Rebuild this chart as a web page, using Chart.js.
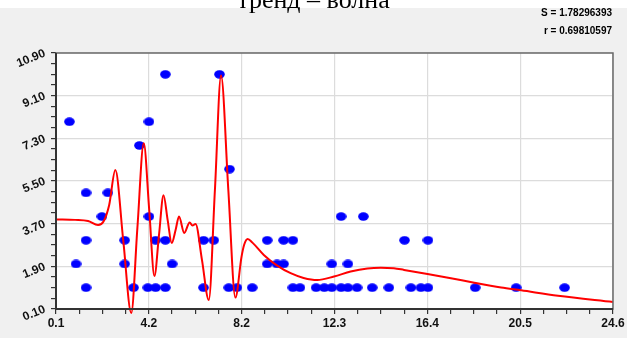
<!DOCTYPE html>
<html>
<head>
<meta charset="utf-8">
<script src="https://cdn.jsdelivr.net/npm/chart.js@4/dist/chart.umd.min.js"></script>
<style>
  html, body { margin:0; padding:0; background:#fff; }
  canvas { display:block; }
</style>
</head>
<body>
<canvas id="chart" width="627" height="338"></canvas>
<script>
// ============ DATA ============
const titleText = 'тренд – волна';
const statLines = ['S = 1.78296393', 'r = 0.69810597'];

const xTickLabels = ['0.1','4.2','8.2','12.3','16.4','20.5','24.6'];
const yTickLabels = ['0.10','1.90','3.70','5.50','7.30','9.10','10.90'];

// observed points
const pointX = [4.91, 7.29, 0.69, 4.19, 3.77, 7.73, 1.42, 2.38, 2.12, 4.19, 12.64, 13.62,
  1.42, 3.12, 4.48, 4.91, 6.59, 7.04, 9.39, 10.11, 10.52, 15.43, 16.46,
  0.98, 3.12, 5.21, 9.39, 9.82, 10.11, 12.23, 12.94,
  1.42, 3.51, 4.14, 4.48, 4.91, 6.59, 7.70, 8.06, 8.73, 10.52, 10.83, 11.54, 11.90,
  12.23, 12.64, 12.94, 13.34, 14.01, 14.74, 15.71, 16.15, 16.46, 18.54, 20.34, 22.47];
const pointY = [10, 10, 8, 8, 7, 6, 5, 5, 4, 4, 4, 4,
  3, 3, 3, 3, 3, 3, 3, 3, 3, 3, 3,
  2, 2, 2, 2, 2, 2, 2, 2,
  1, 1, 1, 1, 1, 1, 1, 1, 1, 1, 1, 1, 1,
  1, 1, 1, 1, 1, 1, 1, 1, 1, 1, 1, 1];

// trend-wave curve
const curveX = [0.10, 0.94, 1.51, 1.95, 2.19, 2.44, 2.71, 3.06, 3.41, 3.68, 3.96, 4.20, 4.43,
  4.63, 4.83, 5.01, 5.19, 5.36, 5.51, 5.74, 5.98, 6.10, 6.24, 6.52, 6.82, 7.09, 7.36, 7.68,
  7.99, 8.26, 8.38, 8.53, 8.74, 9.24, 9.83, 10.42, 10.99, 11.59, 12.33, 13.06, 13.80, 14.39, 14.96,
  15.41, 16.44, 17.47, 18.50, 19.68, 20.56, 22.18, 24.60];
const curveY = [3.88, 3.86, 3.81, 3.64, 3.79, 4.49, 5.96, 2.97, -0.07, 3.52, 7.09, 4.28, 1.49,
  3.22, 4.90, 3.86, 2.88, 3.43, 4.00, 3.31, 3.75, 3.62, 3.69, 2.17, 0.48, 5.12, 9.95, 5.12,
  0.58, 2.30, 2.82, 3.05, 2.90, 2.38, 1.93, 1.61, 1.41, 1.32, 1.47, 1.68, 1.81, 1.84, 1.82,
  1.75, 1.58, 1.40, 1.21, 1.01, 0.89, 0.66, 0.40];

// ============ CHART ============
const dot = document.createElement('canvas');
dot.width = 11; dot.height = 9;
(function(){
  const c = dot.getContext('2d');
  c.fillStyle = '#0000ff';
  c.beginPath();
  c.ellipse(5.5, 4.5, 5.3, 4.2, 0, 0, Math.PI*2);
  c.fill();
})();

const xMin = 0.1, xMax = 24.6, yMin = 0.1, yMax = 10.9;

const frame = {
  id: 'frame',
  beforeDraw(chart) {
    const {ctx, chartArea:a, width, height} = chart;
    ctx.save();
    ctx.fillStyle = '#f0f0f0';
    ctx.fillRect(0, 8, width, height-8);
    ctx.fillStyle = '#fff';
    ctx.fillRect(a.left, a.top, a.right-a.left, a.bottom-a.top);
    ctx.restore();
  },
  afterDatasetsDraw(chart) {
    const {ctx, chartArea:a} = chart;
    ctx.save();
    ctx.strokeStyle = '#6a6a6a';
    ctx.lineWidth = 1.5;
    ctx.strokeRect(a.left, a.top, a.right-a.left, a.bottom-a.top);
    ctx.strokeStyle = '#333';
    ctx.lineWidth = 2;
    ctx.beginPath();
    ctx.moveTo(a.left, a.top); ctx.lineTo(a.left, a.bottom); ctx.lineTo(a.right, a.bottom);
    ctx.stroke();
    ctx.restore();
  },
  afterDraw(chart) {
    const {ctx, width} = chart;
    ctx.save();
    ctx.fillStyle = '#000';
    ctx.font = '26px "Liberation Serif", serif';
    ctx.textAlign = 'center';
    ctx.textBaseline = 'alphabetic';
    ctx.fillText(titleText, width/2, 8);
    ctx.font = 'bold 10px "Liberation Sans", Arial, sans-serif';
    ctx.textAlign = 'right';
    ctx.textBaseline = 'middle';
    ctx.fillText(statLines[0], 612, 13);
    ctx.fillText(statLines[1], 612, 31);
    ctx.restore();
  }
};

new Chart(document.getElementById('chart'), {
  type: 'scatter',
  data: {
    datasets: [
      { type:'line', data: curveX.map((x,i)=>({x, y:curveY[i]})), borderColor:'#ff0000', borderWidth:2,
        pointRadius:0, cubicInterpolationMode:'monotone', fill:false, clip:false },
      { data: pointX.map((x,i)=>({x, y:pointY[i]})), pointStyle: dot, pointRadius:5 }
    ]
  },
  options: {
    responsive:false, animation:false,
    layout:{ padding:{ left:0, right:14, top:53, bottom:0 } },
    plugins:{ legend:{display:false}, tooltip:{enabled:false}, title:{display:false} },
    scales:{
      x:{
        min:xMin, max:xMax,
        afterFit: s => { s.height = 29; },
        border:{ display:false },
        grid:{ color: c => c.index%4===0 ? '#dcdcdc' : 'rgba(0,0,0,0)', tickColor:'#333', tickLength:5, lineWidth:1.2 },
        ticks:{ stepSize:(xMax-xMin)/24, autoSkip:false, maxRotation:0, padding:2, color:'#111',
          font:{ family:'"Liberation Sans", Arial, sans-serif', size:12, weight:'bold' },
          callback:(v,i) => i%4===0 ? xTickLabels[i/4] : '' }
      },
      y:{
        min:yMin, max:yMax,
        afterFit: s => { s.width = 56; },
        border:{ display:false },
        grid:{ color: c => c.index%4===0 ? '#dcdcdc' : 'rgba(0,0,0,0)', tickColor:'#333', tickLength:5, lineWidth:1.2 },
        ticks:{ stepSize:(yMax-yMin)/24, autoSkip:false, minRotation:22, maxRotation:22, padding:6, color:'#111',
          font:{ family:'"Liberation Sans", Arial, sans-serif', size:12, weight:'bold' },
          callback:(v,i) => i%4===0 ? yTickLabels[i/4] : '' }
      }
    }
  },
  plugins:[frame]
});
</script>
</body>
</html>
